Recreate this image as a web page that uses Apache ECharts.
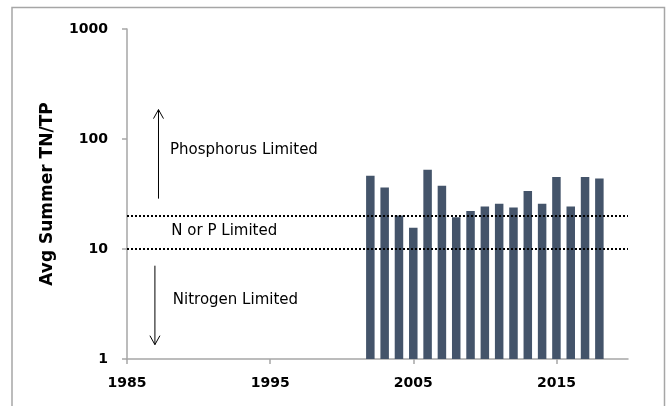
<!DOCTYPE html>
<html>
<head>
<meta charset="utf-8">
<script src="https://cdn.jsdelivr.net/npm/echarts@6/dist/echarts.min.js"></script>
<style>html,body{margin:0;padding:0;background:#fff}#c{width:668px;height:406px}</style>
</head>
<body>
<div id="c"></div>
<script>
var years = [2002,2003,2004,2005,2006,2007,2008,2009,2010,2011,2012,2013,2014,2015,2016,2017,2018];
var ratios = [46.4,36.3,20.2,15.6,52.6,37.6,19.4,22.1,24.4,25.8,23.9,33.7,25.8,45.1,24.4,45.1,43.8];
var xTickLabels = [1985,1995,2005,2015];
var yTickLabels = [1,10,100,1000];
var thresholds = [10,20];
var annotations = [
  {text:'Phosphorus Limited', x:1988.0, y:80},
  {text:'N or P Limited', x:1988.1, y:14.4},
  {text:'Nitrogen Limited', x:1988.2, y:3.46}
];
var arrows = [
  {x:1987.2, from:28.7, to:185},
  {x:1986.95, from:7.05, to:1.35}
];

var chart = echarts.init(document.getElementById('c'), null, {renderer:'canvas'});
var axisColor = '#a6a6a6';
var option = {
  animation:false,
  grid:{left:127, right:40, top:29, bottom:47, containLabel:false},
  xAxis:{
    type:'value', min:1985, max:2020,
    axisLine:{show:true, lineStyle:{color:axisColor, width:1.5}},
    axisTick:{show:true, customValues:xTickLabels, length:5, lineStyle:{color:axisColor, width:1.5}},
    axisLabel:{customValues:xTickLabels, fontFamily:'DejaVu Sans', fontWeight:'bold', fontSize:14, color:'#000', margin:17, formatter:function(v){return String(v);}},
    splitLine:{show:false}
  },
  yAxis:{
    type:'log', logBase:10, min:1, max:1000,
    name:'Avg Summer TN/TP', nameLocation:'middle', nameGap:71, nameRotate:90,
    nameTextStyle:{fontFamily:'DejaVu Sans', fontWeight:'bold', fontSize:17, color:'#000'},
    axisLine:{show:true, lineStyle:{color:axisColor, width:1.5}},
    axisTick:{show:true, length:5, lineStyle:{color:axisColor, width:1.5}},
    axisLabel:{fontFamily:'DejaVu Sans', fontWeight:'bold', fontSize:14, color:'#000', margin:19,
      formatter:function(v){return yTickLabels.indexOf(Math.round(v))>=0 ? String(Math.round(v)) : '';}},
    splitLine:{show:false}
  },
  series:[{
    type:'bar',
    data:years.map(function(y,i){return [y, ratios[i]];}),
    barWidth:8.5,
    itemStyle:{color:'#44546a'},
    markLine:{
      silent:true, symbol:['none','none'],
      label:{show:false},
      lineStyle:{color:'#000', width:2, type:[2,2]},
      data:thresholds.map(function(t){return {yAxis:t};})
    }
  }]
};
chart.setOption(option);

function px(x,y){return chart.convertToPixel({gridIndex:0},[x,y]);}
var g = [];
g.push({type:'rect', shape:{x:12, y:7.5, width:652.5, height:420}, style:{fill:'none', stroke:'#a6a6a6', lineWidth:1.5}, z:0});
annotations.forEach(function(a){
  var p = px(a.x, a.y);
  g.push({type:'text', x:p[0], y:p[1], style:{text:a.text, fontFamily:'DejaVu Sans', fontSize:15, fill:'#000', textVerticalAlign:'middle', textAlign:'left'}});
});
arrows.forEach(function(a){
  var p0 = px(a.x, a.from), p1 = px(a.x, a.to);
  var dir = p1[1] < p0[1] ? 1 : -1;
  g.push({type:'line', shape:{x1:p0[0], y1:p0[1], x2:p1[0], y2:p1[1]}, style:{stroke:'#000', lineWidth:1}});
  g.push({type:'polyline', shape:{points:[[p1[0]-5, p1[1]+dir*9],[p1[0], p1[1]],[p1[0]+5, p1[1]+dir*9]]}, style:{stroke:'#000', lineWidth:1, fill:'none'}});
});
chart.setOption({graphic:g});
</script>
</body>
</html>
